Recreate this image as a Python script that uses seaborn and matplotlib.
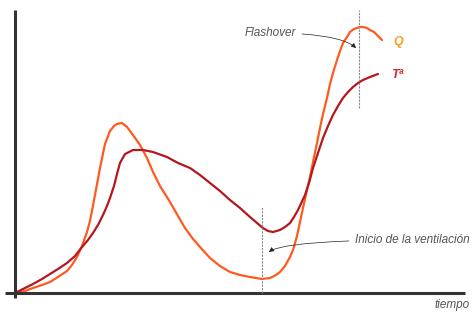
import numpy as np
import pandas as pd
import matplotlib
matplotlib.use("Agg")
import matplotlib.pyplot as plt
import seaborn as sns

# curves (time, value)
q_t = [0, 10, 18, 27, 35, 43, 52, 57, 62, 67, 72, 75, 80, 85, 90, 95, 99, 102, 107, 112,
       118, 125, 132, 138, 145, 155, 163, 170, 178, 185, 195, 205, 215, 225, 235, 247, 255,
       261, 265, 270, 275, 278, 282, 285, 288, 292, 295, 298, 302, 305, 308, 312, 315,
       318, 322, 325, 328, 332, 335, 339, 342, 345, 348, 352, 355, 359, 362, 365, 367]
q_v = [0, 2, 5, 8, 11, 16, 22, 28, 36, 47, 61, 72, 98, 125, 149, 162, 167, 169, 170, 166,
       158, 148, 135, 121, 107, 91, 77, 65, 54, 46, 35, 27, 21, 18, 16, 14, 15,
       18, 21, 27, 36, 43, 57, 71, 85, 103, 116, 131, 150, 165, 179, 195, 209,
       220, 233, 242, 250, 256, 261, 264, 265, 266, 266, 265, 263, 261, 258, 255, 253]
t_t = [0, 10, 18, 27, 35, 43, 52, 60, 67, 73, 78, 83, 88, 92, 95, 99, 102, 105, 110, 118,
       128, 138, 152, 163, 175, 185, 195, 205, 215, 225, 235, 242, 248, 253, 258, 265,
       270, 275, 279, 283, 290, 294, 298, 303, 308, 313, 318, 323, 328, 333, 338, 343,
       348, 355, 363]
t_v = [0, 5, 9, 14, 19, 24, 30, 37, 46, 53, 60, 68, 78, 87, 95, 107, 119, 130, 139, 143,
       143, 141, 136, 130, 125, 118, 110, 102, 93, 85, 76, 70, 65, 62, 61, 63,
       66, 70, 76, 83, 98, 110, 125, 140, 155, 167, 178, 187, 195, 201, 206, 210,
       213, 216, 219]

df = pd.concat([
    pd.DataFrame({"tiempo": q_t, "valor": q_v, "serie": "Q"}),
    pd.DataFrame({"tiempo": t_t, "valor": t_v, "serie": "Tª"}),
])

sns.set_style("white")
fig = plt.figure(figsize=(4.73, 3.13), dpi=100)
ax = fig.add_axes([0, 0, 1, 1])

sns.lineplot(data=df, x="tiempo", y="valor", hue="serie", sort=False,
             palette={"Q": "#ff5a1e", "Tª": "#b5161f"}, linewidth=1.6,
             legend=False, ax=ax)

ax.set_xlim(-15, 458)
ax.set_ylim(-20, 293)
for s in ax.spines.values():
    s.set_visible(False)
ax.set_xticks([])
ax.set_yticks([])
ax.set_xlabel("")
ax.set_ylabel("")

# axes lines
ax.plot([-10, 450], [0, 0], color="#333333", lw=2.2, solid_capstyle="butt")
ax.plot([0, 0], [-5, 283], color="#333333", lw=2.2, solid_capstyle="butt")

# event markers
ax.vlines(247, 0, 86, colors="#888888", lw=0.8, linestyles=(0, (2, 1)))
ax.vlines(344, 185, 283, colors="#888888", lw=0.8, linestyles=(0, (2, 1)))

txt = dict(style="italic", color="#555555", fontsize=8.5, family="Liberation Sans")
ax.annotate("Flashover", xy=(343, 243), xytext=(281, 260), ha="right", va="center",
            arrowprops=dict(arrowstyle="-|>", color="#222222", lw=0.5, mutation_scale=7,
                            connectionstyle="angle3,angleA=0,angleB=-50"), **txt)
ax.annotate("Inicio de la ventilación", xy=(252, 39), xytext=(340, 53), ha="left",
            va="center",
            arrowprops=dict(arrowstyle="-|>", color="#222222", lw=0.5, mutation_scale=7,
                            connectionstyle="angle3,angleA=0,angleB=60"), **txt)
ax.text(455, -12, "tiempo", ha="right", va="center", **txt)

ax.text(378, 251, "Q", color="#f5a020", fontsize=9, fontweight="bold", style="italic",
        ha="left", va="center", family="Liberation Sans")
ax.text(376, 218, "Tª", color="#d8262c", fontsize=9, fontweight="bold", style="italic",
        ha="left", va="center", family="Liberation Sans")

fig.savefig("out.png", dpi=100)
